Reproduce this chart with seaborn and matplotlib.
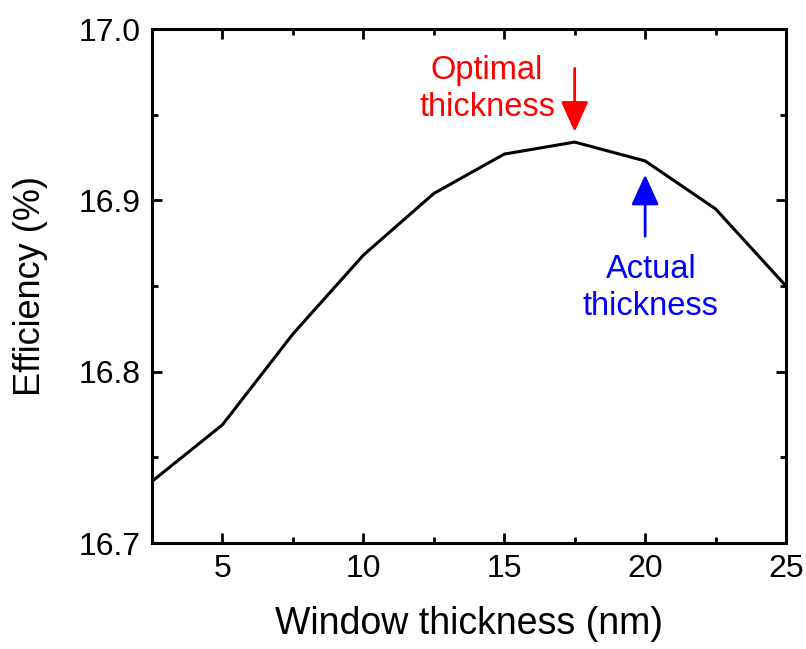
import matplotlib
matplotlib.use("Agg")
import matplotlib.pyplot as plt
import seaborn as sns
import pandas as pd
from matplotlib.ticker import MultipleLocator

thickness = [2.5, 5, 7.5, 10, 12.5, 15, 17.5, 20, 22.5, 25]
efficiency = [16.736, 16.769, 16.822, 16.868, 16.904, 16.927, 16.934, 16.923, 16.895, 16.850]
optimal_x = 17.5
actual_x = 20
xticks = [5, 10, 15, 20, 25]
yticks = [16.7, 16.8, 16.9, 17.0]

sns.set_style("ticks")
plt.rcParams['font.family'] = ['Liberation Sans', 'DejaVu Sans']
plt.rcParams['text.color'] = 'black'
plt.rcParams['axes.labelcolor'] = 'black'
plt.rcParams['xtick.color'] = 'black'
plt.rcParams['ytick.color'] = 'black'
plt.rcParams['axes.edgecolor'] = 'black'

df = pd.DataFrame({"x": thickness, "y": efficiency})
fig = plt.figure(figsize=(8.06, 6.49), dpi=100)
ax = fig.add_axes([0.1886, 0.1633, 0.7866, 0.7920])
sns.lineplot(data=df, x="x", y="y", ax=ax, color="black", linewidth=2.2)

ax.set_xlim(2.5, 25)
ax.set_ylim(16.7, 17.0)
ax.set_xticks(xticks)
ax.set_yticks(yticks)
ax.set_yticklabels([f"{v:.1f}" for v in yticks])
ax.xaxis.set_minor_locator(MultipleLocator(2.5))
ax.yaxis.set_minor_locator(MultipleLocator(0.05))
ax.tick_params(which="both", direction="in", top=True, right=True, width=2, labelsize=23, pad=8)
ax.tick_params(which="major", length=7)
ax.tick_params(which="minor", length=4)
for s in ax.spines.values():
    s.set_linewidth(2.2)
    s.set_visible(True)
ax.set_xlabel("Window thickness (nm)", fontsize=27, labelpad=16)
ax.set_ylabel("Efficiency (%)", fontsize=26, labelpad=22)

astyle = "-|>,head_length=0.55,head_width=0.25"
ax.annotate("", xy=(optimal_x, 16.940), xytext=(optimal_x, 16.977),
            arrowprops=dict(arrowstyle=astyle, mutation_scale=34, color="red", lw=2.0, shrinkA=0, shrinkB=0))
ax.text(14.39, 16.965, "Optimal\nthickness", color="red", fontsize=23.5, ha="center", va="center", linespacing=1.25)
ax.annotate("", xy=(actual_x, 16.915), xytext=(actual_x, 16.879),
            arrowprops=dict(arrowstyle=astyle, mutation_scale=34, color="blue", lw=2.0, shrinkA=0, shrinkB=0))
ax.text(20.2, 16.849, "Actual\nthickness", color="blue", fontsize=23.5, ha="center", va="center", linespacing=1.25)

fig.savefig("out.png", dpi=100)
